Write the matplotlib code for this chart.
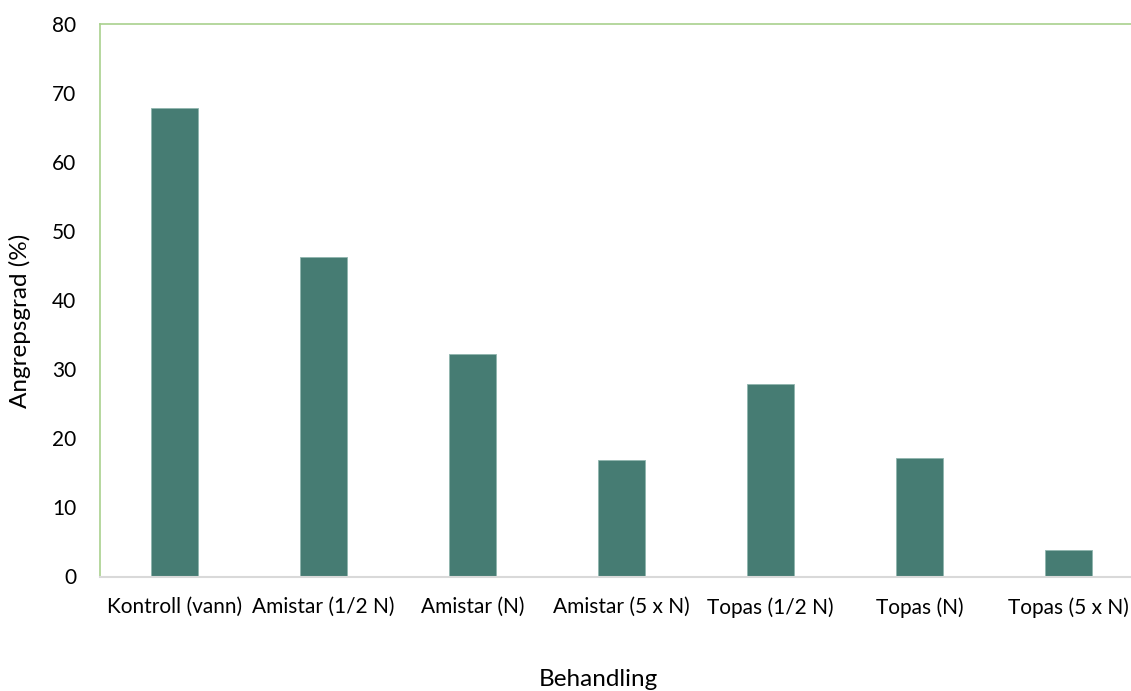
import matplotlib.pyplot as plt
import numpy as np

categories = ['Kontroll (vann)', 'Amistar (1/2 N)', 'Amistar (N)', 'Amistar (5 x N)',
              'Topas (1/2 N)', 'Topas (N)', 'Topas (5 x N)']
values = [67.8, 46.2, 32.2, 16.9, 27.8, 17.2, 3.9]
yticks = [0, 10, 20, 30, 40, 50, 60, 70, 80]

plt.rcParams['font.family'] = ['Lato', 'DejaVu Sans']

W, H = 1131, 691
fig = plt.figure(figsize=(W / 100, H / 100), dpi=100)
ax = fig.add_axes([100 / W, (H - 576.5) / H, 1043 / W, 553 / H])

x = np.arange(len(categories))
ax.bar(x, values, width=0.315, color='#467c73', edgecolor='#8fb5ae', linewidth=0.6)

ax.set_xlim(-0.5, len(categories) - 0.5)
ax.set_ylim(0, 80)
ax.set_yticks(yticks)
ax.set_xticks(x)
ax.set_xticklabels(categories)
ax.tick_params(axis='both', length=0, labelsize=15, colors='black')
ax.tick_params(axis='y', pad=17)
ax.tick_params(axis='x', pad=15)

for s in ['top', 'left', 'right']:
    ax.spines[s].set_color('#a9d18e')
    ax.spines[s].set_linewidth(1.2)
ax.spines['bottom'].set_color('#d9d9d9')
ax.spines['bottom'].set_linewidth(1.5)

fig.text(598 / W, 1 - 680 / H, 'Behandling', ha='center', va='center', fontsize=17.5)
fig.text(20 / W, 1 - 321 / H, 'Angrepsgrad (%)', ha='center', va='center',
         rotation=90, fontsize=17.5)

fig.savefig('out.png', dpi=100)
